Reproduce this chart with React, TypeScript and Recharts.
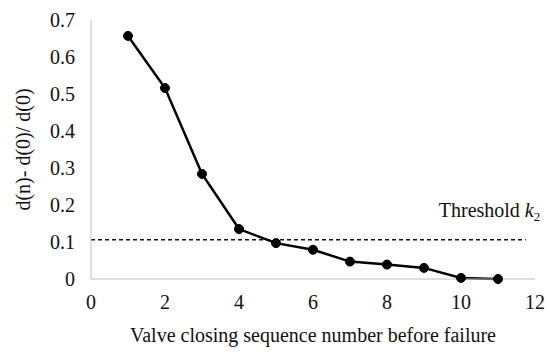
import React from "react";
import { LineChart, Line, XAxis, YAxis, ReferenceLine } from "recharts";

const sequence = [1, 2, 3, 4, 5, 6, 7, 8, 9, 10, 11];
const ratio = [0.657, 0.516, 0.284, 0.135, 0.097, 0.079, 0.047, 0.039, 0.03, 0.003, 0.0];
const xTicks = [0, 2, 4, 6, 8, 10, 12];
const yTicks = [0, 0.1, 0.2, 0.3, 0.4, 0.5, 0.6, 0.7];
const threshold = 0.106;
const thresholdEnd = 11.75;

const data = sequence.map((n, i) => ({ n, value: ratio[i] }));

const FONT = '"Liberation Serif", "Times New Roman", serif';
const AXIS = "#bfbfbf";
const textStyle = { fontFamily: FONT, fontSize: 20 };

function ThresholdLabel(props: any) {
    const vb = props.viewBox || { x: 91, y: 240, width: 434 };
    const right = vb.x + (vb.width || 0);
    return (
        <text x={right - 87} y={vb.y - 23} style={textStyle} fill="#111">
            Threshold{" "}
            <tspan fontStyle="italic">k</tspan>
            <tspan fontSize={13} dy={4}>2</tspan>
        </text>
    );
}

export default function App() {
    return (
        <div style={{ position: "absolute", left: 0, top: 0, background: "#fff", fontFamily: FONT }}>
            <LineChart
                width={550}
                height={354}
                data={data}
                margin={{ top: 20, right: 15, bottom: 0, left: 0 }}
                style={{ fontFamily: FONT }}
            >
                <XAxis
                    dataKey="n"
                    type="number"
                    domain={[0, 12]}
                    ticks={xTicks}
                    tickLine={false}
                    tickMargin={10}
                    height={75}
                    stroke={AXIS}
                    tick={{ fill: "#111", style: textStyle }}
                    label={{
                        value: "Valve closing sequence number before failure",
                        position: "insideBottom",
                        offset: 12,
                        fill: "#111",
                        style: textStyle,
                    }}
                />
                <YAxis
                    type="number"
                    domain={[0, 0.7]}
                    ticks={yTicks}
                    tickLine={false}
                    tickMargin={10}
                    width={91}
                    stroke={AXIS}
                    tickFormatter={(v: number) => (v === 0 ? "0" : v.toFixed(1))}
                    tick={{ fill: "#111", style: textStyle }}
                    label={{
                        value: "d(n)- d(0)/ d(0)",
                        angle: -90,
                        position: "insideLeft",
                        offset: 23,
                        fill: "#111",
                        style: { ...textStyle, textAnchor: "middle" },
                    }}
                />
                <ReferenceLine
                    segment={[
                        { x: 0, y: threshold },
                        { x: thresholdEnd, y: threshold },
                    ]}
                    stroke="#111"
                    strokeWidth={1.5}
                    strokeDasharray="4 3"
                    label={<ThresholdLabel />}
                />
                <Line
                    type="linear"
                    dataKey="value"
                    stroke="#000"
                    strokeWidth={2.5}
                    dot={{ r: 4.5, fill: "#000", stroke: "#000", strokeWidth: 1 }}
                    isAnimationActive={false}
                />
            </LineChart>
        </div>
    );
}
